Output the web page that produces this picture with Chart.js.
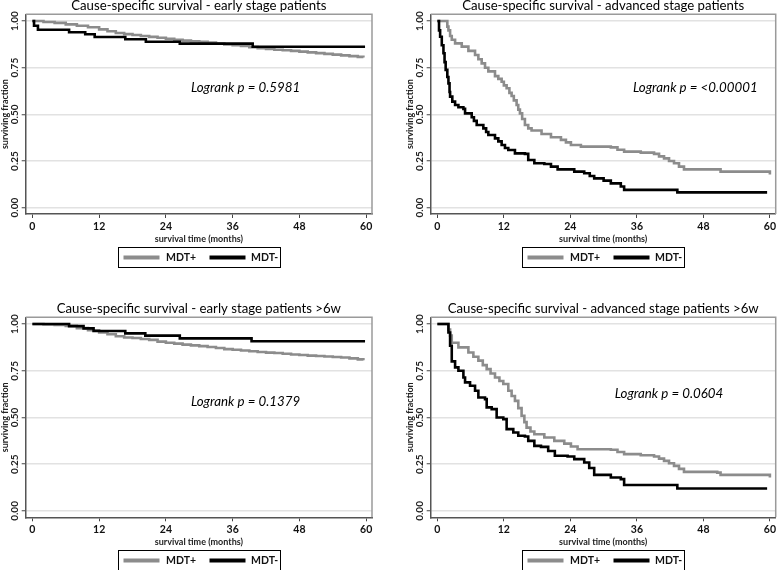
<!DOCTYPE html>
<html>
<head>
<meta charset="utf-8">
<script src="https://cdn.jsdelivr.net/npm/chart.js@4.4.0/dist/chart.umd.min.js"></script>
<style>
    html, body { margin: 0; padding: 0; background: #fff; }
    #wrap { position: relative; width: 778px; height: 570px; overflow: hidden; background: #fff; }
    #wrap canvas { position: absolute; }
</style>
</head>
<body>
<div id="wrap">
    <canvas id="c0" width="388" height="285" style="left:0;top:0"></canvas>
    <canvas id="c1" width="390" height="285" style="left:388px;top:0"></canvas>
    <canvas id="c2" width="388" height="285" style="left:0;top:285px"></canvas>
    <canvas id="c3" width="390" height="285" style="left:388px;top:285px"></canvas>
</div>
<script>
// series names and axis ticks
const seriesLabels = ['MDT+', 'MDT-'];
const xTicks = [0, 12, 24, 36, 48, 60];
const yTicks = [0, 0.25, 0.5, 0.75, 1];
const panelTitles = [
    'Cause-specific survival - early stage patients',
    'Cause-specific survival - advanced stage patients',
    'Cause-specific survival - early stage patients >6w',
    'Cause-specific survival - advanced stage patients >6w'
];
const logrankTexts = ['Logrank p = 0.5981', 'Logrank p = <0.00001', 'Logrank p = 0.1379', 'Logrank p = 0.0604'];

// Kaplan-Meier steps: [month, surviving fraction after the step]
const earlyPlus = [[0,1],[2,0.995],[4,0.99],[6,0.982],[8,0.975],[10,0.967],[12,0.955],[13.5,0.945],[15,0.936],
    [16.5,0.93],[18,0.925],[19.5,0.92],[21,0.915],[22.5,0.91],[24,0.905],[25.5,0.9],[27,0.895],[28.5,0.891],
    [30,0.888],[31.5,0.884],[33,0.879],[34.5,0.875],[36,0.871],[37.5,0.866],[39,0.86],[40.5,0.855],[42,0.85],
    [43.5,0.846],[45,0.843],[46.5,0.84],[48,0.836],[49.5,0.832],[51,0.828],[52.5,0.824],[54,0.82],[55.5,0.816],
    [57,0.812],[58.5,0.808],[59.5,0.805]];
const earlyMinus = [[0,1],[0.3,0.975],[1,0.953],[6.6,0.94],[9.5,0.929],[11.2,0.914],[16.7,0.902],[20.4,0.889],
    [26.5,0.879],[39.6,0.862],[59.8,0.862]];

const advPlus = [[0,1],[1.5,1],[1.8,0.97],[2,0.95],[2.3,0.92],[2.6,0.9],[3.2,0.88],[4.4,0.863],[5.6,0.84],
    [6.8,0.818],[7.4,0.795],[8,0.773],[8.6,0.75],[9.2,0.73],[10.4,0.705],[11,0.69],[11.6,0.675],[12,0.655],
    [12.5,0.64],[13,0.615],[13.4,0.598],[13.8,0.575],[14.3,0.55],[14.6,0.525],[14.9,0.505],[15.3,0.475],
    [15.8,0.443],[16.4,0.425],[17,0.413],[18.8,0.395],[20.5,0.377],[22.3,0.363],[23.2,0.35],[24.1,0.336],
    [25.9,0.327],[31.3,0.323],[32.5,0.31],[33.7,0.3],[36.7,0.295],[39.1,0.288],[40,0.275],[40.9,0.264],
    [41.8,0.25],[42.7,0.238],[43.6,0.22],[44.5,0.205],[50.5,0.205],[51.1,0.193],[59.5,0.193],[60,0.178]];
const advMinus = [[0,1],[0.3,0.95],[0.5,0.916],[0.8,0.87],[1.1,0.827],[1.3,0.78],[1.5,0.738],[1.8,0.7],
    [2,0.666],[2.2,0.62],[2.3,0.595],[2.7,0.568],[3.2,0.55],[3.8,0.538],[4.7,0.529],[5,0.505],[6.2,0.484],
    [6.6,0.465],[7.1,0.443],[8.3,0.425],[8.8,0.405],[9.2,0.389],[10.4,0.371],[11,0.355],[11.6,0.336],
    [12.2,0.32],[12.8,0.309],[14,0.291],[15.8,0.288],[16.4,0.255],[17.5,0.238],[19.3,0.234],[20.5,0.22],
    [21.7,0.205],[24.1,0.205],[24.7,0.193],[26.5,0.184],[27.5,0.17],[28.3,0.157],[30,0.145],[31.3,0.13],
    [33.1,0.113],[33.7,0.095],[43.3,0.082],[59.5,0.082]];

const early6Plus = [[0,1],[2,0.998],[4,0.995],[6,0.99],[8,0.978],[10,0.967],[12,0.955],[13.5,0.945],[15,0.935],
    [16.5,0.928],[18,0.925],[19.5,0.92],[21,0.915],[22.5,0.906],[24,0.9],[25.5,0.895],[27,0.89],[28.5,0.886],
    [30,0.882],[31.5,0.877],[33,0.872],[34.5,0.866],[36,0.862],[37.5,0.858],[39,0.854],[40.5,0.85],[42,0.847],
    [43.5,0.845],[45,0.841],[46.5,0.837],[48,0.834],[49.5,0.831],[51,0.829],[52.5,0.826],[54,0.824],[55.5,0.821],
    [57,0.816],[58.5,0.811],[59.5,0.806]];
const early6Minus = [[0,1],[6.6,0.989],[9.2,0.977],[11,0.963],[16.7,0.95],[20.3,0.938],[26.5,0.923],
    [39.4,0.908],[59.8,0.908]];

const adv6Plus = [[0,1],[1.7,1],[2,0.97],[2.3,0.938],[2.6,0.9],[3.8,0.875],[5.6,0.848],[6.5,0.825],[7.4,0.804],
    [8.2,0.78],[8.9,0.759],[9.6,0.735],[10.4,0.714],[11.2,0.695],[11.9,0.679],[12.8,0.643],[13.4,0.615],
    [14,0.589],[14.6,0.55],[15.2,0.509],[15.7,0.475],[16.1,0.446],[16.8,0.425],[17.5,0.41],[19.3,0.393],
    [21.1,0.375],[22.9,0.36],[24.1,0.345],[25.3,0.33],[31.3,0.327],[32.5,0.315],[33.7,0.304],[36.7,0.298],
    [39.1,0.291],[40,0.28],[40.9,0.268],[41.8,0.255],[42.7,0.241],[43.6,0.225],[44.5,0.209],[50.5,0.205],
    [51.1,0.193],[59.5,0.193],[60,0.179]];
const adv6Minus = [[0,1],[1.7,1],[2,0.955],[2.3,0.884],[2.6,0.8],[3.2,0.768],[3.8,0.75],[4.7,0.714],[5,0.688],
    [5.9,0.67],[6.8,0.643],[7.4,0.607],[8.6,0.598],[8.9,0.554],[9.8,0.545],[10.7,0.5],[11.9,0.491],[12.5,0.438],
    [13.7,0.42],[14.6,0.402],[15.8,0.398],[16.4,0.375],[17.5,0.348],[18.7,0.343],[20,0.321],[21.2,0.295],
    [23.5,0.291],[24.7,0.277],[26.5,0.259],[27.4,0.23],[28.3,0.193],[31.3,0.179],[33.1,0.17],[33.7,0.139],
    [43.3,0.12],[59.5,0.12]];

const panelSeries = [
    [earlyPlus, earlyMinus],
    [advPlus, advMinus],
    [early6Plus, early6Minus],
    [adv6Plus, adv6Minus]
];

// where the logrank note sits, in data units (month, fraction at baseline)
const notePos = [[28.5, 0.621], [35.3, 0.621], [28.5, 0.564], [32.0, 0.604]];

const GRAY = '#8c8c8c';
const BLACK = '#000000';
const FONT = 'Lato, "DejaVu Sans", sans-serif';

// per-panel layout: y axis width and padding around the plot frame
const layouts = [
    { yw: 25.7, padding: { top: 14.3, right: 16, bottom: 41, left: 0 } },
    { yw: 42.7, padding: { top: 14.3, right: 1, bottom: 41, left: 0 } },
    { yw: 25.7, padding: { top: 32.3, right: 16, bottom: 22.7, left: 0 } },
    { yw: 42.7, padding: { top: 32.3, right: 1, bottom: 22.7, left: 0 } }
];

// frame, title, rotated y labels, logrank note and boxed legend
const stataDecor = {
    id: 'stataDecor',
    afterDraw(chart, args, opts) {
        const { ctx, chartArea: a, scales } = chart;
        const y = scales.y;
        const x = scales.x;
        ctx.save();

        // light top/right frame
        ctx.strokeStyle = '#9a9a9a';
        ctx.lineWidth = 1.5;
        ctx.beginPath();
        ctx.moveTo(a.left, a.top);
        ctx.lineTo(a.right, a.top);
        ctx.lineTo(a.right, a.bottom);
        ctx.stroke();

        // title
        ctx.fillStyle = '#000';
        ctx.font = '13.2px ' + FONT;
        ctx.textAlign = 'center';
        ctx.textBaseline = 'alphabetic';
        ctx.fillText(opts.title, (a.left + a.right) / 2, a.top - 4);

        // y tick labels, read bottom to top
        ctx.font = 'bold 10px ' + FONT;
        ctx.fillStyle = '#222';
        yTicks.forEach(v => {
            const py = y.getPixelForValue(v);
            ctx.save();
            ctx.translate(a.left - 10.5, py);
            ctx.rotate(-Math.PI / 2);
            ctx.textAlign = 'center';
            ctx.textBaseline = 'middle';
            ctx.fillText(v.toFixed(2), 0, 0);
            ctx.restore();
        });

        // y axis title
        ctx.save();
        ctx.font = 'bold 9px ' + FONT;
        ctx.translate(a.left - 21, (a.top + a.bottom) / 2);
        ctx.rotate(-Math.PI / 2);
        ctx.textAlign = 'center';
        ctx.textBaseline = 'middle';
        ctx.fillText('surviving fraction', 0, 0);
        ctx.restore();

        // logrank note
        ctx.font = 'italic 13.3px ' + FONT;
        ctx.fillStyle = '#000';
        ctx.textAlign = 'left';
        ctx.textBaseline = 'alphabetic';
        ctx.fillText(opts.note, x.getPixelForValue(opts.notePos[0]), y.getPixelForValue(opts.notePos[1]));

        // legend box
        const bw = 162, bh = 20;
        const bx = Math.round((a.left + a.right) / 2 - bw / 2) + 0.5;
        const by = Math.round(a.bottom + 33) + 0.5;
        ctx.strokeStyle = '#000';
        ctx.lineWidth = 1;
        ctx.strokeRect(bx, by, bw, bh);
        const cy = by + bh / 2;
        const ds = chart.data.datasets;
        const slots = [[5, 47.5], [91, 132.5]];
        ds.forEach((d, i) => {
            ctx.strokeStyle = d.borderColor;
            ctx.lineWidth = 4;
            ctx.beginPath();
            ctx.moveTo(bx + slots[i][0], cy);
            ctx.lineTo(bx + slots[i][0] + 36, cy);
            ctx.stroke();
            ctx.fillStyle = '#111';
            ctx.font = 'bold 10.5px ' + FONT;
            ctx.textAlign = 'left';
            ctx.textBaseline = 'middle';
            ctx.fillText(d.label, bx + slots[i][1], cy + 0.5);
        });
        ctx.restore();
    }
};

function makePanel(idx) {
    const lay = layouts[idx];
    const [plus, minus] = panelSeries[idx];
    const toXY = arr => arr.map(p => ({ x: p[0], y: p[1] }));

    return new Chart(document.getElementById('c' + idx), {
        type: 'line',
        data: {
            datasets: [{
                label: seriesLabels[0],
                data: toXY(plus),
                borderColor: GRAY,
                borderWidth: 2.6,
                stepped: true,
                pointRadius: 0,
                order: 1
            }, {
                label: seriesLabels[1],
                data: toXY(minus),
                borderColor: BLACK,
                borderWidth: 2.6,
                stepped: true,
                pointRadius: 0,
                order: 0
            }]
        },
        options: {
            responsive: false,
            animation: false,
            events: [],
            layout: { padding: lay.padding },
            plugins: {
                legend: { display: false },
                tooltip: { enabled: false },
                stataDecor: { title: panelTitles[idx], note: logrankTexts[idx], notePos: notePos[idx] }
            },
            scales: {
                x: {
                    type: 'linear',
                    min: -1.2,
                    max: 61.05,
                    afterBuildTicks: s => { s.ticks = xTicks.map(v => ({ value: v })); },
                    afterFit: s => { s.height = 30; },
                    grid: { drawOnChartArea: false, tickLength: 4, tickColor: '#444', tickWidth: 1 },
                    border: { color: '#555', width: 1.5 },
                    ticks: {
                        autoSkip: false,
                        maxRotation: 0,
                        padding: 2,
                        color: '#111',
                        font: { family: FONT, size: 10.5, weight: 'bold' },
                        callback: v => String(v)
                    },
                    title: {
                        display: true,
                        text: 'survival time (months)',
                        color: '#222',
                        padding: 0,
                        font: { family: FONT, size: 9, weight: 'bold' }
                    }
                },
                y: {
                    type: 'linear',
                    min: -0.034,
                    max: 1.036,
                    afterBuildTicks: s => { s.ticks = yTicks.map(v => ({ value: v })); },
                    afterFit: s => { s.width = lay.yw; },
                    grid: { color: '#e2e2e2', lineWidth: 1.5, tickLength: 4, tickColor: '#444', tickWidth: 1 },
                    border: { color: '#555', width: 1.5 },
                    ticks: { display: false }
                }
            }
        },
        plugins: [stataDecor]
    });
}

[0, 1, 2, 3].forEach(makePanel);
</script>
</body>
</html>
